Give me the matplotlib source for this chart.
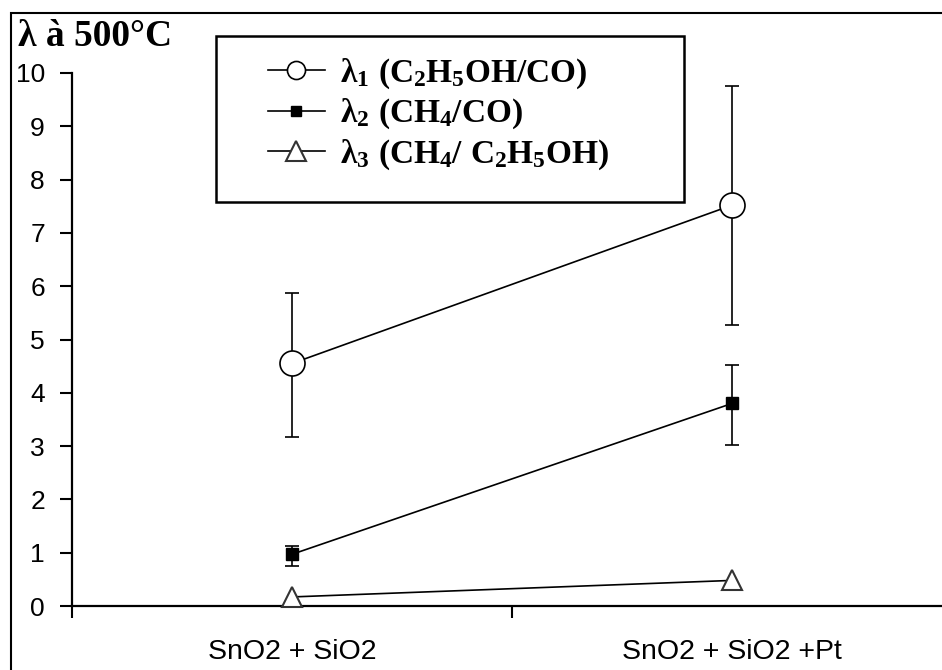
import matplotlib
matplotlib.use("Agg")
import matplotlib.pyplot as plt
from matplotlib.patches import Rectangle
from matplotlib.lines import Line2D

categories = ["SnO2 + SiO2", "SnO2 + SiO2 +Pt"]
lambda1 = [4.55, 7.52]
lambda1_err_low = [3.17, 5.27]
lambda1_err_high = [5.87, 9.75]
lambda2 = [0.97, 3.80]
lambda2_err_low = [0.75, 3.02]
lambda2_err_high = [1.13, 4.52]
lambda3 = [0.17, 0.48]
y_ticks = list(range(0, 11))
labels = [r'$\lambda_1\ (C_2H_5OH/CO)$', r'$\lambda_2\ (CH_4/CO)$', r'$\lambda_3\ (CH_4/\ C_2H_5OH)$']

plt.rcParams['mathtext.fontset'] = 'custom'
plt.rcParams['mathtext.rm'] = 'Liberation Serif:bold'
plt.rcParams['mathtext.it'] = 'Liberation Serif:bold'
plt.rcParams['mathtext.bf'] = 'Liberation Serif:bold'

W, H = 942, 670
fig = plt.figure(figsize=(W/100, H/100), dpi=100)
ax = fig.add_axes([72/W, 1-606/H, (952-72)/W, (606-73)/H])

x = [0.5, 1.5]

def yerr(vals, lo, hi):
    return [[v - l for v, l in zip(vals, lo)], [h - v for v, h in zip(vals, hi)]]

ax.errorbar(x, lambda1, yerr=yerr(lambda1, lambda1_err_low, lambda1_err_high),
            color='black', lw=1.2, marker='o', ms=18, mfc='white', mec='black', mew=1.2,
            capsize=5, elinewidth=1.2, capthick=1.2, zorder=3)
ax.errorbar(x, lambda2, yerr=yerr(lambda2, lambda2_err_low, lambda2_err_high),
            color='black', lw=1.2, marker='s', ms=8.5, mfc='black', mec='black',
            capsize=5, elinewidth=1.2, capthick=1.2, zorder=3)
ax.plot(x, lambda3, color='black', lw=1.2, marker='^', ms=15, mfc='white', mec='#333333',
        mew=1.5, zorder=4, clip_on=False)

ax.set_xlim(0, 2)
ax.set_ylim(0, 10)
ax.set_yticks(y_ticks)
ax.set_yticklabels([str(t) for t in y_ticks], fontsize=19, family='Liberation Sans')
ax.set_xticks([0, 1, 2])
ax.set_xticklabels([])
ax.set_xticks(x, minor=True)
ax.set_xticklabels(categories, minor=True, fontsize=20.5, family='Liberation Sans')
ax.tick_params(axis='x', which='minor', length=0, pad=24)
ax.tick_params(axis='x', which='major', length=8.5, width=1.5, direction='out')
ax.tick_params(axis='y', length=8.5, width=1.5, direction='out', pad=11)
for s in ['top', 'right']:
    ax.spines[s].set_visible(False)
for s in ['left', 'bottom']:
    ax.spines[s].set_linewidth(1.6)

handles = [
    Line2D([], [], color='black', lw=1.2, marker='o', ms=13, mfc='white', mec='black', mew=1.2),
    Line2D([], [], color='black', lw=1.2, marker='s', ms=7.5, mfc='black', mec='black'),
    Line2D([], [], color='black', lw=1.2, marker='^', ms=15, mfc='white', mec='#333333', mew=1.5),
]
fs = 24
leg = fig.legend(handles, labels, loc='upper left', bbox_to_anchor=(268/W, 1-56/H),
                 fontsize=fs, frameon=False, handlelength=57/(fs*1.389),
                 handletextpad=15/(fs*1.389), labelspacing=0.15,
                 borderpad=0, borderaxespad=0)

fig.patches.append(Rectangle((216/W, 1-202/H), (684-216)/W, (202-36)/H,
                             transform=fig.transFigure, fill=True, facecolor='white',
                             edgecolor='black', lw=1.8, figure=fig, zorder=5))
leg.set_zorder(6)

fig.text(18/W, 1-37/H, 'λ à 500°C', fontsize=27, fontweight='bold',
         family='Liberation Serif', va='center', ha='left')

fig.patches.append(Rectangle((10.5/W, -0.1), 1.2, (H-12.5)/H + 0.1,
                             transform=fig.transFigure, fill=False, edgecolor='black',
                             lw=1.5, figure=fig))

fig.savefig('out.png', dpi=100)
